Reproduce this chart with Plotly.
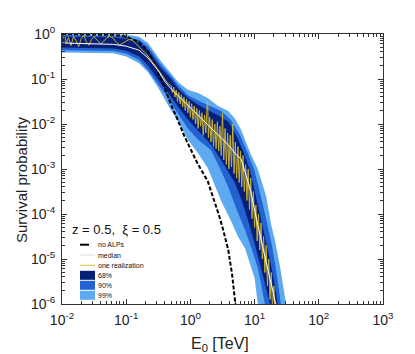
import numpy as np
import plotly.graph_objects as go

# ---- data (log10 E [TeV], log10 P) ----
noalp_logE = [-2.0, -1.5, -1.2, -1.0, -0.8, -0.66, -0.5, -0.4, -0.3, -0.2, -0.1, 0.0, 0.12, 0.27, 0.35, 0.45, 0.51, 0.59, 0.65, 0.70, 0.74]
noalp_logP = [0.0, -0.005, -0.02, -0.06, -0.18, -0.38, -0.85, -1.2, -1.58, -1.9, -2.25, -2.55, -2.9, -3.27, -3.6, -4.05, -4.35, -4.8, -5.35, -6.0, -6.5]

median_logE = [-2.0, -1.5, -1.2, -1.0, -0.8, -0.66, -0.5, -0.4, -0.3, -0.19, -0.1, 0.0, 0.1, 0.2, 0.3, 0.4, 0.48, 0.6, 0.7, 0.79, 0.87, 0.94, 1.05, 1.15, 1.26, 1.33, 1.37]
median_logP = [-0.2, -0.21, -0.23, -0.27, -0.36, -0.53, -0.82, -1.05, -1.22, -1.37, -1.5, -1.63, -1.77, -1.92, -2.06, -2.2, -2.31, -2.48, -2.66, -2.78, -3.15, -3.5, -4.25, -4.85, -5.55, -6.0, -6.3]

# 68% band
b68_up_logE = [-2.0, -1.2, -1.0, -0.8, -0.66, -0.46, -0.3, -0.2, -0.04, 0.12, 0.27, 0.45, 0.59, 0.71, 0.82, 0.93, 1.05, 1.13, 1.21, 1.29, 1.36, 1.4]
b68_up_logP = [-0.06, -0.07, -0.11, -0.2, -0.36, -0.75, -1.0, -1.2, -1.42, -1.57, -1.69, -1.82, -1.95, -2.24, -2.6, -3.04, -3.8, -4.31, -4.82, -5.4, -6.0, -6.4]
b68_lo_logE = [-2.0, -1.2, -1.0, -0.8, -0.66, -0.5, -0.35, -0.19, -0.04, 0.12, 0.32, 0.5, 0.69, 0.8, 0.9, 1.0, 1.1, 1.17, 1.24, 1.28]
b68_lo_logP = [-0.3, -0.32, -0.37, -0.5, -0.7, -1.02, -1.3, -1.62, -1.9, -2.15, -2.45, -2.85, -3.3, -3.7, -4.15, -4.65, -5.2, -5.6, -6.0, -6.4]

# 90% band
b90_up_logE = [-2.0, -1.0, -0.8, -0.66, -0.46, -0.3, -0.2, -0.04, 0.12, 0.27, 0.48, 0.63, 0.77, 0.88, 1.0, 1.13, 1.21, 1.27, 1.34, 1.41, 1.45]
b90_up_logP = [-0.02, -0.06, -0.13, -0.28, -0.68, -0.94, -1.13, -1.36, -1.48, -1.58, -1.71, -1.91, -2.24, -2.6, -3.04, -3.8, -4.31, -4.7, -5.3, -6.0, -6.4]
b90_lo_logE = [-2.0, -1.2, -1.0, -0.8, -0.66, -0.5, -0.35, -0.19, -0.04, 0.12, 0.32, 0.45, 0.59, 0.72, 0.85, 0.95, 1.05, 1.1, 1.16, 1.2]
b90_lo_logP = [-0.36, -0.38, -0.44, -0.58, -0.8, -1.12, -1.42, -1.78, -2.1, -2.35, -2.58, -2.95, -3.4, -3.9, -4.35, -4.75, -5.2, -5.55, -6.0, -6.4]

# 99% band
b99_up_logE = [-2.0, -1.0, -0.8, -0.66, -0.46, -0.3, -0.19, -0.04, 0.12, 0.27, 0.43, 0.59, 0.69, 0.79, 0.85, 0.95, 1.05, 1.18, 1.26, 1.32, 1.4, 1.49, 1.53]
b99_up_logP = [0.0, -0.01, -0.06, -0.2, -0.6, -0.88, -1.07, -1.24, -1.31, -1.42, -1.6, -1.71, -1.87, -2.13, -2.35, -2.7, -3.0, -3.6, -4.25, -4.6, -5.2, -6.0, -6.4]
b99_lo_logE = [-2.0, -1.2, -1.0, -0.8, -0.66, -0.5, -0.4, -0.3, -0.19, -0.04, 0.12, 0.27, 0.48, 0.63, 0.74, 0.85, 1.0, 1.05, 1.08]
b99_lo_logP = [-0.41, -0.43, -0.5, -0.65, -0.85, -1.2, -1.45, -1.7, -1.95, -2.35, -2.65, -2.98, -3.71, -4.15, -4.5, -4.76, -5.42, -6.0, -6.4]

# one realization
real_logE = [-2.0, -1.96, -1.93, -1.9, -1.86, -1.82, -1.78, -1.74, -1.7, -1.66, -1.62, -1.58, -1.54, -1.5,
             -1.45, -1.4, -1.35, -1.3, -1.25, -1.2, -1.15, -1.1, -1.05, -1.0, -0.95, -0.9, -0.85, -0.8,
             -0.75, -0.7, -0.65, -0.6, -0.55, -0.5, -0.45, -0.4, -0.35, -0.3,
             -0.28, -0.26, -0.24, -0.22, -0.2, -0.18, -0.16, -0.14, -0.12, -0.1, -0.08, -0.06, -0.04, -0.02,
             0.0, 0.02, 0.04, 0.06, 0.08, 0.1, 0.12, 0.14, 0.16, 0.18, 0.2, 0.22, 0.24, 0.26, 0.27, 0.28,
             0.3, 0.32, 0.34, 0.36, 0.38, 0.4, 0.42, 0.44, 0.46, 0.48, 0.5, 0.52, 0.54, 0.56, 0.58, 0.6,
             0.62, 0.64, 0.66, 0.68, 0.7, 0.72, 0.74, 0.76, 0.78, 0.8, 0.82, 0.84, 0.86, 0.88, 0.9, 0.92,
             0.94, 0.96, 0.98, 1.0, 1.02, 1.04, 1.06, 1.08, 1.1, 1.12, 1.14, 1.16, 1.18, 1.2, 1.22, 1.24,
             1.26, 1.28, 1.3, 1.32]
real_logP = [-0.12, -0.04, -0.2, -0.08, -0.26, -0.05, -0.15, -0.28, -0.1, -0.03, -0.18, -0.25, -0.12, -0.06,
             -0.14, -0.22, -0.16, -0.08, -0.05, -0.1, -0.19, -0.24, -0.2, -0.16, -0.12, -0.14, -0.22, -0.3,
             -0.36, -0.42, -0.5, -0.6, -0.7, -0.8, -0.88, -0.98, -1.1, -1.15,
             -1.3, -1.18, -1.4, -1.25, -1.5, -1.3, -1.55, -1.35, -1.62, -1.4, -1.7, -1.45, -1.75, -1.5,
             -1.85, -1.55, -1.9, -1.6, -2.0, -1.65, -2.1, -1.7, -2.05, -1.75, -2.25, -1.8, -2.2, -1.6, -1.5, -2.3,
             -1.85, -2.4, -1.9, -2.5, -2.0, -2.55, -1.95, -2.6, -2.05, -2.7, -1.75, -2.8, -2.1, -2.9, -2.2, -3.0,
             -2.25, -2.95, -2.0, -3.1, -2.4, -3.2, -2.5, -3.3, -2.6, -3.4, -2.7, -3.5, -2.9, -3.7, -3.0, -3.9,
             -3.2, -4.1, -3.5, -4.3, -3.8, -4.6, -4.0, -4.8, -4.2, -5.0, -4.5, -5.3, -4.7, -5.6, -5.0, -5.9,
             -5.3, -6.2, -5.6, -6.3]

x_tickvals = [0.01, 0.1, 1, 10, 100, 1000]
x_ticktext = ["10<sup>-2</sup>", "10<sup>-1</sup>", "10<sup>0</sup>", "10<sup>1</sup>", "10<sup>2</sup>", "10<sup>3</sup>"]
y_tickvals = [1e-6, 1e-5, 1e-4, 1e-3, 1e-2, 1e-1, 1]
y_ticktext = ["10<sup>-6</sup>", "10<sup>-5</sup>", "10<sup>-4</sup>", "10<sup>-3</sup>", "10<sup>-2</sup>", "10<sup>-1</sup>", "10<sup>0</sup>"]

legend_labels = ["no ALPs", "median", "one realization", "68%", "90%", "99%"]
annot_text = "z = 0.5,  ξ = 0.5"
x_title = "E<sub>0</sub> [TeV]"
y_title = "Survival probability"

C68, C90, C99 = "#06207a", "#2262d2", "#5eaaf0"
CYEL = "#dcc02a"

def p(v):
    return np.power(10.0, np.array(v, dtype=float))

def band(up_e, up_p, lo_e, lo_p, color):
    xs = np.concatenate([p(up_e), p(lo_e)[::-1]])
    ys = np.concatenate([p(up_p), p(lo_p)[::-1]])
    return go.Scatter(x=xs, y=ys, fill="toself", fillcolor=color, mode="none",
                      line=dict(width=0), hoverinfo="skip", showlegend=False)

fig = go.Figure()
fig.add_trace(band(b99_up_logE, b99_up_logP, b99_lo_logE, b99_lo_logP, C99))
fig.add_trace(band(b90_up_logE, b90_up_logP, b90_lo_logE, b90_lo_logP, C90))
fig.add_trace(band(b68_up_logE, b68_up_logP, b68_lo_logE, b68_lo_logP, C68))
fig.add_trace(go.Scatter(x=p(noalp_logE), y=p(noalp_logP), mode="lines",
                         line=dict(color="black", width=2, dash="4px,2px"), showlegend=False))
fig.add_trace(go.Scatter(x=p(real_logE), y=p(real_logP), mode="lines",
                         line=dict(color=CYEL, width=1), opacity=0.9, showlegend=False))
fig.add_trace(go.Scatter(x=p(median_logE), y=p(median_logP), mode="lines",
                         line=dict(color="white", width=1), showlegend=False))

FONT = "Liberation Sans, Arial, sans-serif"
axis_common = dict(type="log", showgrid=False, zeroline=False, showline=True, linecolor="#333",
                   linewidth=1, mirror="allticks", ticks="inside", ticklen=5, tickcolor="#333",
                   tickmode="array", automargin=False, ticklabelstandoff=3,
                   tickfont=dict(family=FONT, size=14, color="#222"),
                   minor=dict(ticks="inside", ticklen=3, tickcolor="#333", showgrid=False, dtick="D1"))

fig.update_layout(
    width=415, height=354,
    margin=dict(l=54, r=40, t=26, b=58),
    paper_bgcolor="white", plot_bgcolor="white",
    showlegend=False,
    xaxis=dict(axis_common, range=[-2, 3], tickvals=x_tickvals, ticktext=x_ticktext),
    yaxis=dict(axis_common, range=[-6, 0], tickvals=y_tickvals, ticktext=y_ticktext),
)

def px2paper(xpx, ypx):
    return (xpx - 54) / 321.0, (296 - ypx) / 270.0

# axis titles
tx_, ty_ = px2paper(212, 336)
fig.add_annotation(x=tx_, y=ty_, xref="paper", yref="paper", text=x_title, showarrow=False,
                   xanchor="center", yanchor="middle", font=dict(family=FONT, size=16, color="#222"))
tx_, ty_ = px2paper(13, 172)
fig.add_annotation(x=tx_, y=ty_, xref="paper", yref="paper", text=y_title, showarrow=False,
                   textangle=-90, xanchor="center", yanchor="middle", font=dict(family=FONT, size=15, color="#222"))

# manual legend inside plot
ax, ay = px2paper(62, 222)
fig.add_annotation(x=ax, y=ay, xref="paper", yref="paper", text=annot_text, showarrow=False,
                   xanchor="left", yanchor="middle", font=dict(family=FONT, size=13, color="#111"))

ys_px = [236.7, 247, 257.3, 267.3, 277.3, 287.3]
styles = [("line", "black", "dash"), ("line", "#dddddd", "solid"), ("line", CYEL, "solid"),
          ("box", C68, None), ("box", C90, None), ("box", C99, None)]
for lab, ypx, (kind, col, dash) in zip(legend_labels, ys_px, styles):
    x0, yc = px2paper(72, ypx)
    x1, _ = px2paper(87, ypx)
    if kind == "line":
        fig.add_shape(type="line", xref="paper", yref="paper", x0=x0, x1=x1, y0=yc, y1=yc,
                      line=dict(color=col, width=2 if col == "black" else 1, dash=dash))
    else:
        _, yt = px2paper(0, ypx - 4.5)
        _, yb = px2paper(0, ypx + 4.5)
        fig.add_shape(type="rect", xref="paper", yref="paper", x0=x0, x1=x1, y0=yb, y1=yt,
                      fillcolor=col, line=dict(width=0))
    lx, _ = px2paper(88, ypx)
    fig.add_annotation(x=lx, y=yc, xref="paper", yref="paper", text=lab, showarrow=False,
                       xanchor="left", yanchor="middle", font=dict(family=FONT, size=7, color="#111"))

fig.write_html("out.html")
